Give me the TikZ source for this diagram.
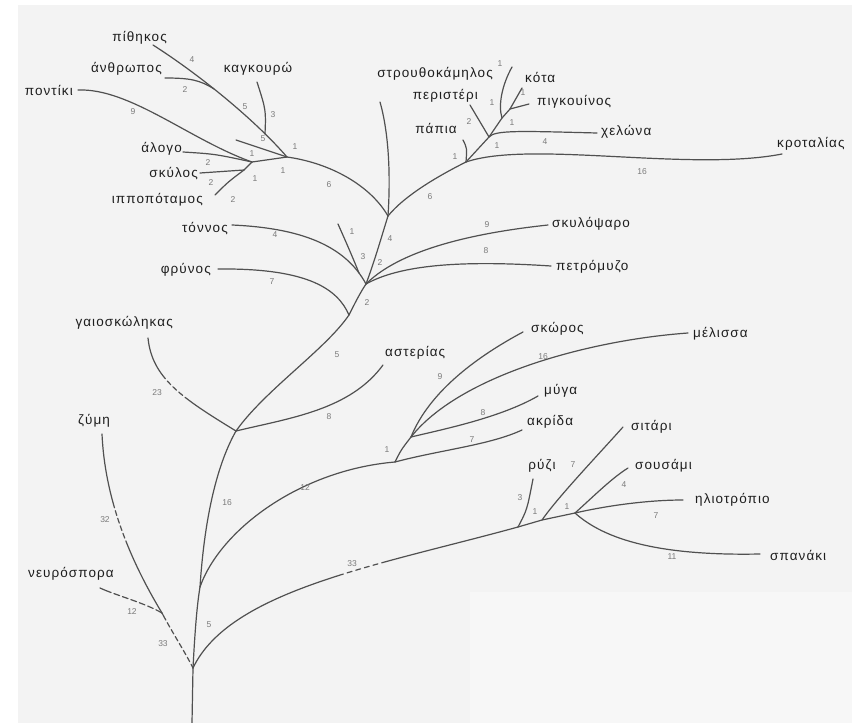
\documentclass[tikz,border=0pt]{standalone}
\usepackage{fontspec}
\setmainfont{Liberation Sans}
\newfontfamily\labfam[LetterSpace=8]{Liberation Sans}
\definecolor{bgc}{HTML}{F3F3F3}
\definecolor{bgl}{HTML}{F7F7F7}
\definecolor{linec}{HTML}{505050}
\definecolor{labc}{HTML}{1E1E1E}
\definecolor{numc}{HTML}{7A7A7A}
\begin{document}
\begin{tikzpicture}[x=1pt,y=-1pt,
  br/.style={draw=linec,line width=1.2pt,line cap=round},
  lab/.style={text=labc,font=\labfam\fontsize{13.5}{15}\selectfont,inner sep=0pt},
  num/.style={text=numc,font=\fontsize{8.5}{9}\selectfont,inner sep=0pt}]
\path[use as bounding box] (0,0) rectangle (852,723);
\fill[white] (0,0) rectangle (852,723);
\fill[bgc] (18,5) rectangle (852,723);
\fill[bgl] (470,592) rectangle (852,723);

% ---------- coordinates ----------
\coordinate (base) at (192,723);
\coordinate (r0) at (193,668);
\coordinate (a1) at (200,587);
\coordinate (a2) at (236,431);
\coordinate (a3) at (349,315);
\coordinate (a4) at (366,284);
\coordinate (a5) at (359,273);
\coordinate (a6) at (388,216);
\coordinate (f0) at (162,613);
\coordinate (zymiEnd) at (102,434);
\coordinate (neurEnd) at (100,588);
\coordinate (gaioEnd) at (148,338);
\coordinate (astEnd) at (383,365);
\coordinate (frynEnd) at (218,269);
\coordinate (tonEnd) at (232,225);
\coordinate (unkEnd) at (338,224);
\coordinate (topEnd) at (380,102);
\coordinate (skylEnd) at (548,225);
\coordinate (petrEnd) at (551,266);
% mammals
\coordinate (m0) at (287,157);
\coordinate (pithEnd) at (153,45);
\coordinate (anthEnd) at (165,78);
\coordinate (anthJ) at (214,89);
\coordinate (kangEnd) at (257,82);
\coordinate (kangJ) at (265,134);
\coordinate (shortEnd) at (236,140);
\coordinate (pontEnd) at (78,90);
\coordinate (alogEnd) at (183,152);
\coordinate (mP) at (252,162);
\coordinate (mH) at (244,170);
\coordinate (skylosEnd) at (200,173);
\coordinate (hippEnd) at (215,195);
% birds / reptiles
\coordinate (b0) at (466,162);
\coordinate (b1) at (489,137);
\coordinate (b2) at (502,118);
\coordinate (b3) at (510,109);
\coordinate (papEnd) at (463,140);
\coordinate (perEnd) at (470,105);
\coordinate (strEnd) at (512,67);
\coordinate (kotEnd) at (522,88);
\coordinate (pigEnd) at (529,104);
\coordinate (xelEnd) at (597,133);
\coordinate (kroEnd) at (782,154);
% insects
\coordinate (i0) at (395,462);
\coordinate (i1) at (411,437);
\coordinate (akrEnd) at (522,430);
\coordinate (mygEnd) at (538,396);
\coordinate (skorEnd) at (523,332);
\coordinate (melEnd) at (688,333);
% plants
\coordinate (p1) at (518,527);
\coordinate (p2) at (542,520);
\coordinate (p3) at (575,513);
\coordinate (ryzEnd) at (533,479);
\coordinate (sitEnd) at (623,427);
\coordinate (souEnd) at (628,468);
\coordinate (iliEnd) at (683,500);
\coordinate (spaEnd) at (760,554);

% ---------- branches ----------
\draw[br] (base) -- (r0);
\draw[br] (r0) .. controls (195,630) and (197,605) .. (a1);
\draw[br] (a1) .. controls (204,525) and (215,468) .. (a2);
\draw[br] (a2) .. controls (265,390) and (325,350) .. (a3);
\draw[br] (a3) .. controls (355,303) and (360,293) .. (a4);
\draw[br] (a4) .. controls (375,260) and (382,235) .. (a6);
% fungi
\draw[br,dash pattern=on 8pt off 3pt on 5pt off 3pt on 5pt off 3pt on 5pt off 3pt on 5pt off 3pt on 5pt off 3pt on 5pt off 3pt on 60pt] (f0) .. controls (172,632) and (185,652) .. (r0);
\draw[br,dash pattern=on 75pt off 3pt on 5pt off 3pt on 5pt off 3pt on 5pt off 3pt on 5pt off 3pt on 200pt] (zymiEnd) .. controls (105,500) and (130,560) .. (f0);
\draw[br,dash pattern=on 12pt off 3pt on 6pt off 3pt on 6pt off 3pt on 6pt off 3pt on 6pt off 3pt on 6pt off 3pt on 60pt] (neurEnd) .. controls (115,595) and (145,603) .. (f0);
% worm, starfish
\draw[br,dash pattern=on 45pt off 3pt on 5pt off 3pt on 5pt off 3pt on 5pt off 3pt on 200pt] (gaioEnd) .. controls (152,378) and (182,398) .. (a2);
\draw[br] (a2) .. controls (290,418) and (350,410) .. (astEnd);
% vertebrates
\draw[br] (a3) .. controls (338,290) and (310,268) .. (frynEnd);
\draw[br] (tonEnd) .. controls (300,228) and (345,245) .. (a4);
\draw[br] (unkEnd) .. controls (346,242) and (353,258) .. (a5);
\draw[br] (a4) .. controls (395,255) and (455,235) .. (skylEnd);
\draw[br] (a4) .. controls (400,265) and (460,260) .. (petrEnd);
\draw[br] (a6) .. controls (391,170) and (388,130) .. (topEnd);
\draw[br] (a6) .. controls (370,185) and (330,163) .. (m0);
\draw[br] (a6) .. controls (405,195) and (440,175) .. (b0);
% mammals
\draw[br] (pithEnd) .. controls (200,75) and (255,120) .. (m0);
\draw[br] (anthEnd) .. controls (190,78) and (200,80) .. (anthJ);
\draw[br] (kangEnd) .. controls (266,110) .. (kangJ);
\draw[br] (shortEnd) -- (m0);
\draw[br] (pontEnd) .. controls (130,88) and (190,140) .. (mP);
\draw[br] (alogEnd) .. controls (215,154) .. (mP);
\draw[br] (mP) .. controls (270,160) .. (m0);
\draw[br] (skylosEnd) -- (mH);
\draw[br] (hippEnd) .. controls (228,182) .. (mH);
\draw[br] (mH) -- (mP);
% reptiles and birds
\draw[br] (b0) .. controls (530,140) and (690,172) .. (kroEnd);
\draw[br] (papEnd) .. controls (467,148) .. (b0);
\draw[br] (b0) -- (b1);
\draw[br] (b1) .. controls (495,130) and (520,131) .. (xelEnd);
\draw[br] (b1) -- (perEnd);
\draw[br] (b1) -- (b2) -- (b3);
\draw[br] (b2) .. controls (498,105) and (502,85) .. (strEnd);
\draw[br] (b3) -- (kotEnd);
\draw[br] (b3) -- (pigEnd);
% insects
\draw[br] (a1) .. controls (220,530) and (300,470) .. (i0);
\draw[br] (i0) .. controls (440,450) and (490,445) .. (akrEnd);
\draw[br] (i0) .. controls (401,450) .. (i1);
\draw[br] (i1) .. controls (440,430) and (500,418) .. (mygEnd);
\draw[br] (i1) .. controls (430,390) and (480,355) .. (skorEnd);
\draw[br] (i1) .. controls (460,375) and (590,340) .. (melEnd);
% plants
\draw[br,dash pattern=on 182pt off 4pt on 5pt off 4pt on 5pt off 4pt on 5pt off 4pt on 5pt off 4pt on 200pt] (r0) .. controls (230,590) and (380,565) .. (p1);
\draw[br] (p1) .. controls (527,510) .. (ryzEnd);
\draw[br] (p1) -- (p2) -- (p3);
\draw[br] (p2) .. controls (558,497) and (598,455) .. (sitEnd);
\draw[br] (p3) .. controls (595,495) and (612,478) .. (souEnd);
\draw[br] (p3) .. controls (610,505) and (650,500) .. (iliEnd);
\draw[br] (p3) .. controls (605,540) and (660,556) .. (spaEnd);

% ---------- names ----------
\node[lab,anchor=east] (tPith) at (167,38) {πίθηκος};
\node[lab,anchor=east] (tAnth) at (162,69) {άνθρωπος};
\node[lab] (tKang) at (258,69) {καγκουρώ};
\node[lab,anchor=east] (tPont) at (73,90) {ποντίκι};
\node[lab,anchor=east] (tAlog) at (182,149) {άλογο};
\node[lab,anchor=east] (tSkyl) at (198,174) {σκύλος};
\node[lab,anchor=east] (tHipp) at (203,200) {ιπποπόταμος};
\node[lab,anchor=east] (tStr) at (493,74) {στρουθοκάμηλος};
\node[lab,anchor=east] (tPer) at (478,96) {περιστέρι};
\node[lab,anchor=east] (tPap) at (457,128) {πάπια};
\node[lab,anchor=west] (tKot) at (525,77) {κότα};
\node[lab,anchor=west] (tPig) at (537,102) {πιγκουίνος};
\node[lab,anchor=west] (tXel) at (601,132) {χελώνα};
\node[lab,anchor=west] (tKro) at (777,144) {κροταλίας};
\node[lab,anchor=east] (tTon) at (228,229) {τόννος};
\node[lab,anchor=west] (tSkylo) at (552,224) {σκυλόψαρο};
\node[lab,anchor=west] (tPetr) at (556,267) {πετρόμυζο};
\node[lab,anchor=east] (tFryn) at (211,270) {φρύνος};
\node[lab,anchor=east] (tGaio) at (173,323) {γαιοσκώληκας};
\node[lab,anchor=west] (tAst) at (385,353) {αστερίας};
\node[lab,anchor=west] (tSkor) at (531,329) {σκώρος};
\node[lab,anchor=west] (tMel) at (693,334) {μέλισσα};
\node[lab,anchor=west] (tMyg) at (544,391) {μύγα};
\node[lab,anchor=west] (tAkr) at (527,422) {ακρίδα};
\node[lab] (tZym) at (94,421) {ζύμη};
\node[lab] (tNeur) at (71,574) {νευρόσπορα};
\node[lab] (tRyz) at (542,466) {ρύζι};
\node[lab,anchor=west] (tSit) at (631,427) {σιτάρι};
\node[lab,anchor=west] (tSou) at (635,466) {σουσάμι};
\node[lab,anchor=west] (tIli) at (695,500) {ηλιοτρόπιο};
\node[lab,anchor=west] (tSpa) at (770,555) {σπανάκι};

% ---------- branch lengths ----------
\node[num] (n1) at (192,60) {4};
\node[num] (n2) at (185,90) {2};
\node[num] (n3) at (245,107) {5};
\node[num] (n4) at (273,115) {3};
\node[num] (n5) at (263,139) {5};
\node[num] (n6) at (295,147) {1};
\node[num] (n7) at (133,112) {9};
\node[num] (n8) at (252,154) {1};
\node[num] (n9) at (208,163) {2};
\node[num] (n10) at (255,179) {1};
\node[num] (n11) at (283,171) {1};
\node[num] (n12) at (211,183) {2};
\node[num] (n13) at (233,200) {2};
\node[num] (n14) at (329,185) {6};
\node[num] (n15) at (430,197) {6};
\node[num] (n16) at (390,239) {4};
\node[num] (n17) at (352,232) {1};
\node[num] (n18) at (363,257) {3};
\node[num] (n19) at (380,263) {2};
\node[num] (n20) at (367,303) {2};
\node[num] (n21) at (275,235) {4};
\node[num] (n22) at (272,282) {7};
\node[num] (n23) at (487,225) {9};
\node[num] (n24) at (486,251) {8};
\node[num] (n25) at (337,355) {5};
\node[num] (n26) at (329,417) {8};
\node[num] (n27) at (157,393) {23};
\node[num] (n28) at (227,503) {16};
\node[num] (n29) at (209,625) {5};
\node[num] (n30) at (500,64) {1};
\node[num] (n31) at (492,103) {1};
\node[num] (n32) at (523,93) {1};
\node[num] (n33) at (469,122) {2};
\node[num] (n34) at (512,123) {1};
\node[num] (n35) at (455,157) {1};
\node[num] (n36) at (497,146) {1};
\node[num] (n37) at (545,142) {4};
\node[num] (n38) at (642,172) {16};
\node[num] (n39) at (387,450) {1};
\node[num] (n40) at (305,488) {12};
\node[num] (n41) at (440,377) {9};
\node[num] (n42) at (543,357) {16};
\node[num] (n43) at (483,413) {8};
\node[num] (n44) at (472,440) {7};
\node[num] (n45) at (352,564) {33};
\node[num] (n46) at (520,498) {3};
\node[num] (n47) at (535,512) {1};
\node[num] (n48) at (573,465) {7};
\node[num] (n49) at (567,507) {1};
\node[num] (n50) at (624,485) {4};
\node[num] (n51) at (656,516) {7};
\node[num] (n52) at (672,557) {11};
\node[num] (n53) at (105,520) {32};
\node[num] (n54) at (132,612) {12};
\node[num] (n55) at (163,644) {33};
\end{tikzpicture}
\end{document}
